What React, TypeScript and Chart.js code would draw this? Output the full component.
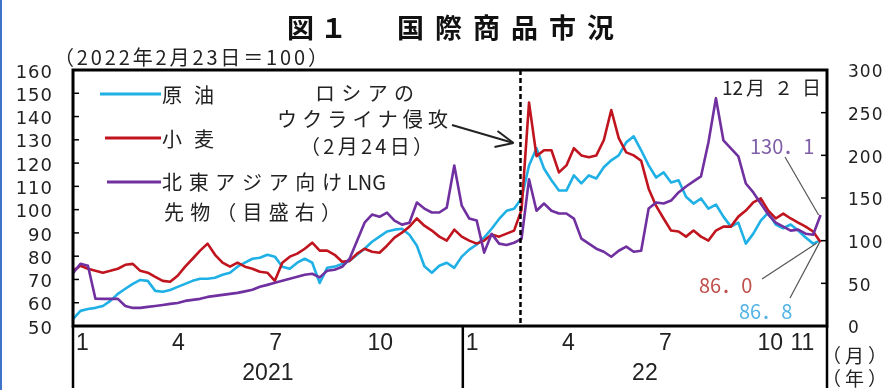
import { useEffect, useRef } from 'react';
import { Chart, registerables } from 'chart.js';

Chart.register(...registerables);

// Weekly observations starting 2021-01-01 (Fridays), last one on 2022-12-02.
const START = '2021-01-01';
const STEP_DAYS = 7;
const AXIS_END = '2022-12-08';

// Crude oil, index (2022-02-23 = 100), left scale
const oilIndex = [
  53, 56.5, 57.3, 57.8, 58.6, 60.8, 63.8, 66, 68.1, 69.8,
  69.4, 65.1, 64.7, 65.5, 66.8, 68.1, 69.4, 70.3, 70.3, 70.7,
  72, 72.9, 75.5, 77.2, 78.9, 79.3, 80.6, 79.8, 75.5, 74.6,
  77.2, 78.9, 77.2, 68.5, 75, 75.5, 76.7, 78, 80.6, 83.2,
  86.2, 88.4, 90.6, 91.4, 91.8, 89.2, 84.5, 75.7, 72.9, 75.9,
  77.2, 75, 79.8, 82.8, 85, 88, 91.8, 96, 99.5, 100.4,
  104.8, 119, 126.4, 117.7, 112.6, 108.2, 108.2, 114.7, 111.3, 114.7,
  113.4, 118.2, 121.2, 123.3, 128.9, 131.5, 125.5, 119, 113.8, 116,
  111.7, 112.6, 105.5, 102.6, 104.8, 100.4, 102.2, 97, 92.7, 94.4,
  85.4, 89.7, 95.3, 98.7, 93.6, 92, 93.6, 91, 88, 85.4,
  86.8,
];

// Wheat, index (2022-02-23 = 100), left scale
const wheatIndex = [
  73.7, 75.9, 74.6, 73.7, 72.9, 73.7, 74.6, 76.3, 76.7, 73.7,
  72.9, 71.1, 69.4, 69, 71.6, 75.5, 78.9, 82.4, 85.4, 80.6,
  77.2, 75.5, 77.2, 75.5, 74.6, 73.3, 72.9, 69.4, 77.2, 79.8,
  81.1, 83.2, 85.8, 82.4, 82.4, 80.6, 77.6, 78, 81.1, 83.2,
  81.9, 81.5, 84.5, 88, 90.1, 92.7, 96.2, 93.1, 91, 88.4,
  86.7, 91.4, 88.4, 86.7, 85.4, 86.7, 89.3, 88.4, 89.7, 91,
  100, 146, 123, 125.5, 125.5, 116, 119, 126.4, 123.3, 122.5,
  123.3, 129.8, 142.8, 130.7, 124.6, 123.3, 121, 109, 101.6, 96.2,
  91, 90.6, 88.4, 91, 88.4, 86.7, 91, 92.7, 92.7, 97,
  99.6, 103.1, 104.8, 99.6, 96.2, 98.3, 96.2, 94.4, 92.7, 90.6,
  86.0,
];

// North-East Asia LNG futures, index (2022-02-23 = 100), right scale
const lngIndex = [
  62, 73, 70.6, 32, 31.8, 31.8, 31.8, 23.5, 21.2, 21.2,
  22.4, 23.5, 24.7, 25.9, 27, 29.4, 30.6, 31.8, 34.1, 35.3,
  36.5, 37.6, 38.8, 40.6, 42.4, 45.9, 48.2, 50.6, 53, 55.3,
  57.6, 60, 61.2, 57, 64.7, 66, 69.4, 78.8, 100, 121,
  130.6, 128, 133, 123.5, 118.8, 121, 144.7, 137.6, 133, 133,
  138.8, 188, 141, 126, 123.5, 86, 108, 96.5, 95, 97.6,
  102, 172, 135, 143.5, 135, 131.8, 131.8, 125.9, 102.4, 96.5,
  90.6, 87, 81.2, 88.2, 93, 87, 88.2, 137.6, 144.7, 143.5,
  147, 156.5, 163.5, 169.4, 175.3, 215.3, 267, 217.6, 208.2, 198.8,
  167, 156.5, 143.5, 130.6, 121.2, 116.5, 111.8, 112.9, 108.2, 107,
  130.1,
];

const seriesNames = ['原油', '小麦', '北東アジア向けLNG'];
const seriesNote = '先物（目盛右）';
const seriesColors = ['#1fb0e6', '#c0141e', '#7030a0'];

const leftTicks = [50, 60, 70, 80, 90, 100, 110, 120, 130, 140, 150, 160];
const rightTicks = [0, 50, 100, 150, 200, 250, 300];

const monthTickDates = [
  '2021-01-01', '2021-04-01', '2021-07-01', '2021-10-01',
  '2022-01-01', '2022-04-01', '2022-07-01', '2022-10-01', '2022-11-01',
];
const monthTickLabels = ['1', '4', '7', '10', '1', '4', '7', '10', '11'];
const yearStarts = ['2021-01-01', '2022-01-01'];
const yearLabels = ['2021', '22'];

const invasionDate = '2022-02-24';
const invasionText = ['ロシアの', 'ウクライナ侵攻', '（2月24日）'];
const latestDay = '12';
const latestRest = '月２日';
const latestValueText = ['130．1', '86．0', '86．8'];

const titleParts = ['図１', '国際商品市況'];
const baseNote = '（2022年2月23日＝100）';
const unitMonth = '（月）';
const unitYear = '（年）';

const DAY_MS = 86400000;
const dayOf = (d: string) => Math.round((Date.parse(d) - Date.parse(START)) / DAY_MS);
const toPoints = (vals: number[]) => vals.map((v, i) => ({ x: i * STEP_DAYS, y: v }));

const CJK = '"Noto Sans CJK JP", "Noto Sans", sans-serif';

// Draws text so that it spans [x0, x1] by adjusting letter spacing.
function fitText(
  ctx: CanvasRenderingContext2D,
  text: string,
  x0: number,
  x1: number,
  y: number,
  font: string,
  color: string,
) {
  ctx.font = font;
  (ctx as any).letterSpacing = '0px';
  const w = ctx.measureText(text).width;
  const n = Array.from(text).length;
  const sp = n > 1 ? (x1 - x0 - w) / (n - 1) : 0;
  (ctx as any).letterSpacing = `${sp}px`;
  ctx.fillStyle = color;
  ctx.textAlign = 'left';
  ctx.textBaseline = 'middle';
  ctx.fillText(text, x0, y);
  (ctx as any).letterSpacing = '0px';
}

function plainText(
  ctx: CanvasRenderingContext2D,
  text: string,
  x: number,
  y: number,
  font: string,
  color: string,
) {
  ctx.font = font;
  (ctx as any).letterSpacing = '0px';
  ctx.fillStyle = color;
  ctx.textAlign = 'left';
  ctx.textBaseline = 'middle';
  ctx.fillText(text, x, y);
}

function line(ctx: CanvasRenderingContext2D, x0: number, y0: number, x1: number, y1: number) {
  ctx.beginPath();
  ctx.moveTo(x0, y0);
  ctx.lineTo(x1, y1);
  ctx.stroke();
}

const decorations = {
  id: 'decorations',
  afterDraw(chart: any) {
    const { ctx, chartArea: ca, scales } = chart;
    const xs = scales.x;
    const yl = scales.y;
    const yr = scales.y2;
    ctx.save();

    // page edge rule
    ctx.fillStyle = '#3d74c8';
    ctx.fillRect(0, 0, 2, 390);

    // invasion marker
    const invX = xs.getPixelForValue(dayOf(invasionDate));
    ctx.strokeStyle = '#000';
    ctx.lineWidth = 2.5;
    ctx.setLineDash([5, 3]);
    line(ctx, invX, ca.top, invX, ca.bottom);
    ctx.setLineDash([]);

    // frame
    ctx.lineWidth = 3;
    ctx.strokeRect(ca.left, ca.top, ca.right - ca.left, ca.bottom - ca.top);

    // inward tick marks
    ctx.lineWidth = 1.5;
    leftTicks.slice(1, -1).forEach((v) => {
      const y = yl.getPixelForValue(v);
      line(ctx, ca.left, y, ca.left + 6, y);
    });
    rightTicks.slice(1, -1).forEach((v) => {
      const y = yr.getPixelForValue(v);
      line(ctx, ca.right - 6, y, ca.right, y);
    });

    // y tick labels
    ctx.fillStyle = '#222';
    ctx.textBaseline = 'middle';
    ctx.font = '18px "DejaVu Sans"';
    (ctx as any).letterSpacing = '1px';
    ctx.textAlign = 'right';
    leftTicks.forEach((v) => ctx.fillText(String(v), 53, yl.getPixelForValue(v) + 3));
    ctx.font = '17px "DejaVu Sans"';
    ctx.textAlign = 'left';
    rightTicks.forEach((v) => ctx.fillText(String(v), 848, yr.getPixelForValue(v) + 3));
    (ctx as any).letterSpacing = '0px';

    // x axis: months, years, separators
    ctx.font = '23px "Liberation Sans"';
    ctx.textAlign = 'left';
    monthTickDates.forEach((d, i) => {
      ctx.fillText(monthTickLabels[i], xs.getPixelForValue(dayOf(d)) + 3, 344);
    });
    const sepX = [...yearStarts.map((d) => xs.getPixelForValue(dayOf(d))), ca.right];
    ctx.lineWidth = 2.5;
    sepX.forEach((x) => line(ctx, x, ca.bottom, x, 388));
    ctx.textAlign = 'center';
    yearLabels.forEach((t, i) => ctx.fillText(t, (sepX[i] + sepX[i + 1]) / 2, 374));
    fitText(ctx, unitMonth, 822, 887, 356, `19px ${CJK}`, '#222');
    fitText(ctx, unitYear, 822, 887, 379, `19px ${CJK}`, '#222');

    // title and base note
    fitText(ctx, titleParts[0], 287, 347, 28, `bold 27px ${CJK}`, '#111');
    fitText(ctx, titleParts[1], 397, 614, 28, `bold 27px ${CJK}`, '#111');
    fitText(ctx, baseNote, 54, 328, 57, `20px ${CJK}`, '#222');

    // legend
    const legendY = [94, 138, 182];
    const legendX0 = [100, 105, 107];
    ctx.lineWidth = 3;
    seriesNames.forEach((name, i) => {
      ctx.strokeStyle = seriesColors[i];
      line(ctx, legendX0[i], legendY[i], 161, legendY[i]);
    });
    fitText(ctx, seriesNames[0], 162, 214, 95, `20px ${CJK}`, '#222');
    fitText(ctx, seriesNames[1], 162, 214, 139, `20px ${CJK}`, '#222');
    const lngLead = seriesNames[2].replace('LNG', '');
    fitText(ctx, lngLead, 162, 342, 182, `20px ${CJK}`, '#222');
    plainText(ctx, 'LNG', 347, 182, `20px ${CJK}`, '#222');
    fitText(ctx, seriesNote, 164, 341, 212, `20px ${CJK}`, '#222');

    // invasion note and arrow
    fitText(ctx, invasionText[0], 315, 414, 93, `20px ${CJK}`, '#222');
    fitText(ctx, invasionText[1], 277, 448, 119, `20px ${CJK}`, '#222');
    fitText(ctx, invasionText[2], 300, 433, 146, `20px ${CJK}`, '#222');
    const tipX = invX - 7;
    const tipY = 143;
    ctx.strokeStyle = '#222';
    ctx.lineWidth = 2;
    line(ctx, 452, 125, tipX, tipY);
    line(ctx, tipX, tipY, tipX - 16, tipY - 12);
    line(ctx, tipX, tipY, tipX - 19, tipY + 4);

    // latest date and values
    plainText(ctx, latestDay, 722, 88, `19px ${CJK}`, '#222');
    fitText(ctx, latestRest, 746, 821, 88, `19px ${CJK}`, '#222');
    const lastX = xs.getPixelForValue((oilIndex.length - 1) * STEP_DAYS);
    const lastLng = yr.getPixelForValue(lngIndex[lngIndex.length - 1]);
    const lastWheat = yl.getPixelForValue(wheatIndex[wheatIndex.length - 1]);
    const lastOil = yl.getPixelForValue(oilIndex[oilIndex.length - 1]);
    ctx.strokeStyle = '#555';
    ctx.lineWidth = 1.2;
    line(ctx, 785, 157, lastX - 2, lastLng);
    line(ctx, 762, 279, lastX - 4, lastWheat + 1);
    line(ctx, 790, 298, lastX - 1, lastOil + 2);
    plainText(ctx, latestValueText[0], 750, 146, `20px ${CJK}`, '#7f5fa8');
    plainText(ctx, latestValueText[1], 699, 285, `20px ${CJK}`, '#c0504d');
    plainText(ctx, latestValueText[2], 739, 311, `20px ${CJK}`, '#55b4e6');

    ctx.restore();
  },
};

export default function App() {
  const canvasRef = useRef<HTMLCanvasElement>(null);

  useEffect(() => {
    const canvas = canvasRef.current;
    if (!canvas) return;
    const chart = new Chart(canvas, {
      type: 'line',
      data: {
        datasets: [
          {
            label: seriesNames[2],
            data: toPoints(lngIndex),
            yAxisID: 'y2',
            borderColor: seriesColors[2],
            order: 0,
          },
          {
            label: seriesNames[1],
            data: toPoints(wheatIndex),
            yAxisID: 'y',
            borderColor: seriesColors[1],
            order: 1,
          },
          {
            label: seriesNames[0],
            data: toPoints(oilIndex),
            yAxisID: 'y',
            borderColor: seriesColors[0],
            order: 2,
          },
        ],
      },
      options: {
        animation: false,
        responsive: false,
        devicePixelRatio: 1,
        layout: { padding: { left: 73, right: 61, top: 70, bottom: 64 } },
        elements: {
          point: { radius: 0 },
          line: { borderWidth: 2.6, tension: 0, borderJoinStyle: 'round', fill: false },
        },
        scales: {
          x: { type: 'linear', display: false, min: 0, max: dayOf(AXIS_END) },
          y: { type: 'linear', display: false, min: 50, max: 160 },
          y2: { type: 'linear', display: false, min: 0, max: 300 },
        },
        plugins: {
          legend: { display: false },
          tooltip: { enabled: false },
        },
      },
      plugins: [decorations],
    });
    return () => chart.destroy();
  }, []);

  return (
    <div style={{ position: 'fixed', left: 0, top: 0, width: 888, height: 390, background: '#fff' }}>
      <canvas ref={canvasRef} width={888} height={390} style={{ display: 'block', width: 888, height: 390 }} />
    </div>
  );
}
